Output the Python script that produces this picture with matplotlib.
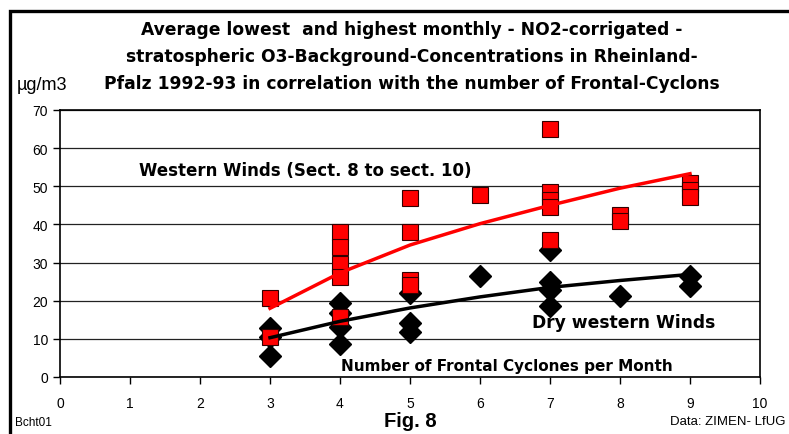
import matplotlib.pyplot as plt
from matplotlib.patches import Rectangle

plt.rcParams['font.family'] = ['Liberation Sans', 'DejaVu Sans']

# Western winds (highest monthly values) - red squares
west_x = [3, 3, 4, 4, 4, 4, 4, 5, 5, 5, 5, 6, 7, 7, 7, 7, 7, 8, 8, 9, 9, 9]
west_y = [20.7, 10.5, 38.1, 34.2, 29.6, 26.3, 15.8, 46.9, 38.1, 25.5, 24.1,
          47.8, 65.0, 48.6, 46.4, 44.7, 36.0, 42.5, 40.8, 50.8, 48.9, 47.2]

# Dry western winds (lowest monthly values) - black diamonds
dry_x = [3, 3, 3, 4, 4, 4, 4, 5, 5, 5, 6, 7, 7, 7, 7, 8, 9, 9]
dry_y = [12.8, 10.5, 5.5, 19.4, 16.8, 13.2, 8.6, 22.0, 14.1, 11.9,
         26.5, 33.3, 25.0, 22.8, 18.5, 21.3, 26.6, 23.9]

# trend lines
trend_x = [3, 4, 5, 6, 7, 8, 9]
trend_west = [18.0, 27.3, 34.6, 40.2, 45.0, 49.5, 53.3]
trend_dry = [10.3, 14.6, 18.1, 21.0, 23.5, 25.3, 26.9]

xticks = list(range(0, 11))
yticks = list(range(0, 80, 10))

title_lines = ['Average lowest  and highest monthly - NO2-corrigated -',
               'stratospheric O3-Background-Concentrations in Rheinland-',
               'Pfalz 1992-93 in correlation with the number of Frontal-Cyclons']

W, H = 789, 435
fig = plt.figure(figsize=(W / 100, H / 100), dpi=100)
ax = fig.add_axes([60 / W, 1 - 378 / H, 700 / W, 267 / H])

ax.plot(dry_x, dry_y, ls='none', marker='D', ms=10.8, color='black', zorder=3)
ax.plot(west_x, west_y, ls='none', marker='s', ms=11, mfc='#ff0000',
        mec='#330000', mew=0.8, zorder=4)
ax.plot(trend_x, trend_west, color='#ff0000', lw=2.5, zorder=5)
ax.plot(trend_x, trend_dry, color='black', lw=2.5, zorder=5)

ax.set_xlim(0, 10)
ax.set_ylim(0, 70)
ax.set_xticks(xticks)
ax.set_yticks(yticks)
ax.tick_params(direction='out', length=5, width=1, labelsize=10)
ax.tick_params(axis='x', pad=9)
ax.grid(axis='y', color='#222222', lw=0.9)
ax.set_axisbelow(True)
for s in ax.spines.values():
    s.set_linewidth(1.2)

bold = dict(family='DejaVu Sans', fontweight='bold', va='center')
ax.text(1.13, 54.3, 'Western Winds (Sect. 8 to sect. 10)', fontsize=12, **bold)
ax.text(6.74, 14.4, 'Dry western Winds', fontsize=12.3, **bold)
ax.text(4.01, 2.9, 'Number of Frontal Cyclones per Month', fontsize=11, **bold)

for i, line in enumerate(title_lines):
    fig.text(412 / W, 1 - (30 + 27 * i) / H, line, ha='center', fontsize=12.3, **bold)

fig.text(17 / W, 1 - 85 / H, 'µg/m3', fontsize=13, va='center')
fig.text(15 / W, 1 - 423 / H, 'Bcht01', fontsize=8.5, va='center')
fig.text(410 / W, 1 - 422 / H, 'Fig. 8', fontsize=14.5, fontweight='bold',
         ha='center', va='center')
fig.text(670 / W, 1 - 422 / H, 'Data: ZIMEN- LfUG', fontsize=9.5, va='center')

# outer frame of the original sheet
fig.patches.append(Rectangle((10 / W, -0.1), 1.1, 1.1 - 12 / H,
                             transform=fig.transFigure, fill=False,
                             lw=2.4, ec='black'))

fig.savefig('out.png', dpi=100)
